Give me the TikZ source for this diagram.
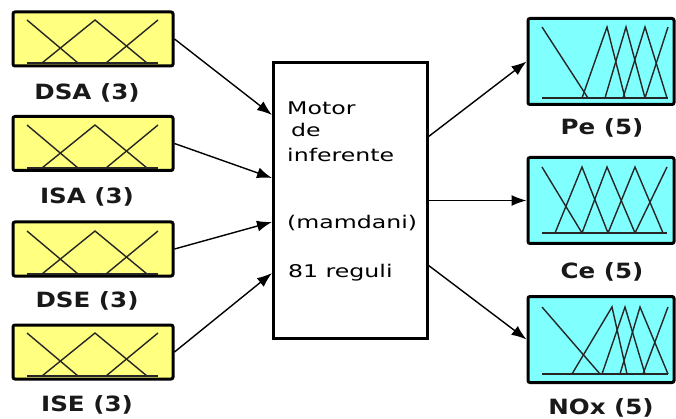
\documentclass[tikz,border=0pt]{standalone}
\usepackage{fontspec}
\setmainfont{DejaVu Sans}
\usetikzlibrary{arrows.meta}
\definecolor{inyel}{RGB}{255,255,128}
\definecolor{outcy}{RGB}{128,255,255}
\tikzset{
  inbox/.style={draw=black, line width=3pt, fill=inyel, rounded corners=2pt, minimum width=160pt, minimum height=54pt, inner sep=0pt},
  outbox/.style={draw=black, line width=3pt, fill=outcy, rounded corners=2pt, minimum width=146pt, minimum height=86pt, inner sep=0pt},
  motorbox/.style={draw=black, line width=3pt, fill=white, minimum width=154pt, minimum height=275pt, inner sep=0pt},
  mf/.style={draw=black!85, line width=1.4pt, line join=miter},
  arr/.style={draw=black, line width=1.4pt, -{Latex[length=15pt,width=11pt]}},
  lbl/.style={inner sep=0pt, font=\bfseries\fontsize{21}{21}\selectfont, text=black!90},
  mtxt/.style={anchor=base west, inner sep=0pt, font=\fontsize{17.5}{17.5}\selectfont, text=black}
}
\newcommand{\wide}[1]{\scalebox{1.35}[1]{#1}}
\newcommand{\lwide}[1]{\scalebox{1.17}[1]{#1}}
\begin{document}
\begin{tikzpicture}[x=1pt,y=-1pt]
\useasboundingbox (0,0) rectangle (676,419);
% input boxes
\node[inbox] (dsa) at (93,39) {};
\node[inbox] (isa) at (93,143.5) {};
\node[inbox] (dse) at (93,249) {};
\node[inbox] (ise) at (93,352) {};
\foreach \t in {12,117,223,325} {
  \draw[mf] (27,\t+8) -- (78,\t+51);
  \draw[mf] (42,\t+51) -- (95,\t+8) -- (147,\t+51);
  \draw[mf] (106,\t+51) -- (158,\t+8);
  \draw[mf] (27,\t+51) -- (158,\t+51);
}
\node[lbl] (ldsa) at (87,93) {\lwide{DSA (3)}};
\node[lbl] (lisa) at (87,197) {\lwide{ISA (3)}};
\node[lbl] (ldse) at (87,301) {\lwide{DSE (3)}};
\node[lbl] (lise) at (87,405) {\lwide{ISE (3)}};
% motor
\node[motorbox] (motor) at (350,200.5) {};
\node[mtxt] (t1) at (287,115) {\wide{Motor}};
\node[mtxt] (t2) at (291,137) {\wide{de}};
\node[mtxt] (t3) at (287,162) {\wide{inferente}};
\node[mtxt] (t4) at (287,229) {\wide{(mamdani)}};
\node[mtxt] (t5) at (288,277) {\wide{81 reguli}};
% outputs
\node[outbox] (pe) at (601,61.5) {};
\node[outbox] (ce) at (601,200.5) {};
\node[outbox] (nox) at (601,339.5) {};
% Pe
\draw[mf] (542,27) -- (588,98);
\draw[mf] (582,98) -- (607,27) -- (625,98);
\draw[mf] (605,98) -- (626,27) -- (645,98);
\draw[mf] (623,98) -- (645,27) -- (667,98);
\draw[mf] (645,98) -- (668,27);
\draw[mf] (542,98) -- (668,98);
% Ce
\draw[mf] (542,167) -- (582,233);
\draw[mf] (555,233) -- (582,167) -- (608,233);
\draw[mf] (582,233) -- (607,167) -- (635,233);
\draw[mf] (608,233) -- (635,167) -- (663,233);
\draw[mf] (635,233) -- (667,167);
\draw[mf] (542,233) -- (667,233);
% NOx
\draw[mf] (542,307) -- (600,374);
\draw[mf] (572,374) -- (612,307) -- (627,374);
\draw[mf] (602,374) -- (625,307) -- (645,374);
\draw[mf] (620,374) -- (640,307) -- (668,374);
\draw[mf] (643,374) -- (668,307);
\draw[mf] (542,374) -- (668,374);
\node[lbl] (lpe) at (602,128) {\lwide{Pe (5)}};
\node[lbl] (lce) at (602,272) {\lwide{Ce (5)}};
\node[lbl] (lnox) at (601,408) {\lwide{NOx (5)}};
% connectors
\coordinate (mi1) at (272,115);
\coordinate (mi2) at (272,178);
\coordinate (mi3) at (272,222);
\coordinate (mi4) at (272,273);
\coordinate (mo1) at (428,137);
\coordinate (mo2) at (428,200.5);
\coordinate (mo3) at (428,265);
\draw[arr] (dsa.east) -- (mi1);
\draw[arr] (isa.east) -- (mi2);
\draw[arr] (dse.east) -- (mi3);
\draw[arr] (ise.east) -- (mi4);
\draw[arr] (mo1) -- (pe.west);
\draw[arr] (mo2) -- (ce.west);
\draw[arr] (mo3) -- (nox.west);
\end{tikzpicture}
\end{document}
